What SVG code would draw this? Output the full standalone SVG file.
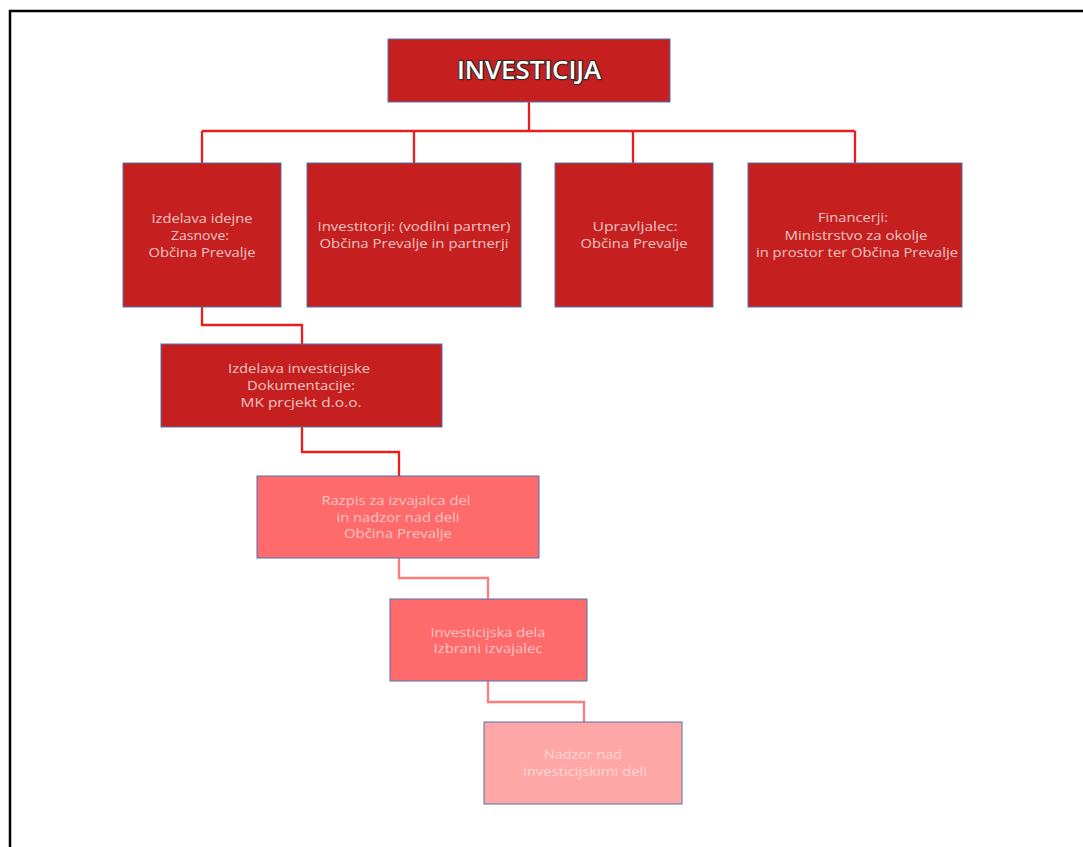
<svg xmlns="http://www.w3.org/2000/svg" width="1083" height="847" viewBox="0 0 1083 847">
<style>
.box{stroke:#4F72B0;stroke-width:1}
.dark{fill:#C5201F}
.mid{fill:#FF6B6B}
.light{fill:#FFA6A6}
.t{font-family:"Open Sans","Noto Sans",sans-serif;font-size:13.5px;text-anchor:middle}
.td{fill:#F0C4C4}
.tm{fill:#FFC4C4}
.tl{fill:#FFD6D6}
.title{font-family:"Open Sans","Noto Sans",sans-serif;font-size:25px;font-weight:600;text-anchor:middle;fill:#FFFFFF;stroke:#3A2A2A;stroke-width:2.4;paint-order:stroke;stroke-linejoin:round}
.c{fill:none;stroke:#EE1C1C;stroke-width:2.3}
.c2{fill:none;stroke:#FF7A7A;stroke-width:2.3}
</style>
<rect x="0" y="0" width="1083" height="847" fill="#FFFFFF"/>
<path d="M10,847 V11 H1083" fill="none" stroke="#000000" stroke-width="2.5"/>
<g id="connectors">
<path class="c" d="M529,102 V131 M202,131 H855 M202,131 V163 M414,131 V163 M633,131 V163 M855,131 V163"/>
<path class="c" d="M202,307 V325 H302 V344"/>
<path class="c" d="M302,427 V452 H399 V476"/>
<path class="c2" d="M399,558 V578 H488 V599"/>
<path class="c2" d="M488,681 V702 H584 V722"/>
</g>
<g id="node-investicija">
<rect class="box dark" x="388" y="39" width="282" height="63"/>
<text class="title" x="529" y="79" textLength="144" lengthAdjust="spacingAndGlyphs">INVESTICIJA</text>
</g>
<g id="node-zasnove">
<rect class="box dark" x="123" y="163" width="158" height="144"/>
<text class="t td" x="202" y="223" textLength="101" lengthAdjust="spacingAndGlyphs">Izdelava idejne</text>
<text class="t td" x="200" y="240" textLength="58" lengthAdjust="spacingAndGlyphs">Zasnove:</text>
<text class="t td" x="202" y="257" textLength="107" lengthAdjust="spacingAndGlyphs">Občina Prevalje</text>
</g>
<g id="node-investitorji">
<rect class="box dark" x="307" y="163" width="214" height="144"/>
<text class="t td" x="414" y="231" textLength="193" lengthAdjust="spacingAndGlyphs">Investitorji: (vodilni partner)</text>
<text class="t td" x="414" y="248" textLength="189" lengthAdjust="spacingAndGlyphs">Občina Prevalje in partnerji</text>
</g>
<g id="node-upravljalec">
<rect class="box dark" x="555" y="163" width="158" height="144"/>
<text class="t td" x="635" y="231" textLength="85" lengthAdjust="spacingAndGlyphs">Upravljalec:</text>
<text class="t td" x="634" y="248" textLength="107" lengthAdjust="spacingAndGlyphs">Občina Prevalje</text>
</g>
<g id="node-financerji">
<rect class="box dark" x="748" y="163" width="214" height="144"/>
<text class="t td" x="853" y="222" textLength="70" lengthAdjust="spacingAndGlyphs">Financerji:</text>
<text class="t td" x="856" y="240" textLength="143" lengthAdjust="spacingAndGlyphs">Ministrstvo za okolje</text>
<text class="t td" x="857" y="257" textLength="202" lengthAdjust="spacingAndGlyphs">in prostor ter Občina Prevalje</text>
</g>
<g id="node-dokumentacija">
<rect class="box dark" x="161" y="344" width="281" height="83"/>
<text class="t td" x="299" y="373" textLength="142" lengthAdjust="spacingAndGlyphs">Izdelava investicijske</text>
<text class="t td" x="301" y="390" textLength="108" lengthAdjust="spacingAndGlyphs">Dokumentacije:</text>
<text class="t td" x="301" y="407" textLength="121" lengthAdjust="spacingAndGlyphs">MK prcjekt d.o.o.</text>
</g>
<g id="node-razpis">
<rect class="box mid" x="257" y="476" width="282" height="82"/>
<text class="t tm" x="396" y="505" textLength="149" lengthAdjust="spacingAndGlyphs">Razpis za izvajalca del</text>
<text class="t tm" x="398" y="522" textLength="123" lengthAdjust="spacingAndGlyphs">in nadzor nad deli</text>
<text class="t tm" x="398" y="538" textLength="108" lengthAdjust="spacingAndGlyphs">Občina Prevalje</text>
</g>
<g id="node-dela">
<rect class="box mid" x="390" y="599" width="197" height="82"/>
<text class="t tm" x="488" y="637" textLength="115" lengthAdjust="spacingAndGlyphs">Investicijska dela</text>
<text class="t tm" x="488" y="653" textLength="109" lengthAdjust="spacingAndGlyphs">Izbrani izvajalec</text>
</g>
<g id="node-nadzor">
<rect class="box light" x="484" y="722" width="198" height="82"/>
<text class="t tl" x="583" y="759" textLength="78" lengthAdjust="spacingAndGlyphs">Nadzor nad</text>
<text class="t tl" x="585" y="776" textLength="124" lengthAdjust="spacingAndGlyphs">investicijskimi deli</text>
</g>
</svg>
